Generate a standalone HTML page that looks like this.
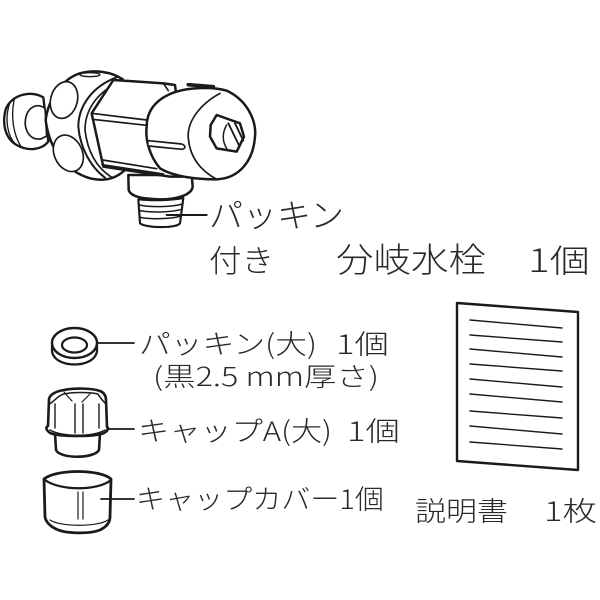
<!DOCTYPE html>
<html><head><meta charset="utf-8"><style>
html,body{margin:0;padding:0;background:#fff}
svg{display:block}
text{font-family:"Noto Sans CJK JP",sans-serif;fill:#2a2a2a;font-weight:300}
</style></head><body>
<svg width="600" height="600" viewBox="0 0 600 600" xmlns="http://www.w3.org/2000/svg">
<rect width="600" height="600" fill="#fff"/>
<g transform="translate(0 70) scale(.33333)" fill="none" stroke="#1a1a1a" stroke-width="7" stroke-linejoin="round" stroke-linecap="round">
<!-- left fitting -->
<path fill="#fff" d="M130 82C95 62 40 70 18 115C5 160 15 205 50 225C85 245 125 240 145 215Z"/>
<path d="M30 97C14 140 20 195 46 222M44 84C32 130 38 190 62 228" stroke-width="4"/>
<path fill="#fff" d="M135 115C105 92 72 122 76 165C80 195 100 212 125 206L140 198Z" stroke-width="5"/>
<!-- ball -->
<path fill="#fff" stroke-width="7.500" d="M137 150C145 85 190 25 240 10C285 -2 335 5 368 28L375 300C345 328 310 335 270 325C200 305 148 240 137 150Z"/>
<ellipse cx="192" cy="90" rx="40" ry="56" transform="rotate(15 192 90)" fill="#fff" stroke-width="5"/>
<ellipse cx="205" cy="250" rx="42" ry="57" transform="rotate(-25 205 250)" fill="#fff" stroke-width="5"/>
<ellipse cx="270" cy="14" rx="30" ry="6" fill="#fff" stroke-width="4"/>
<!-- outlet -->
<path fill="#fff" stroke-width="7.500" d="M385 315L386 360C392 380 425 386 480 388C530 388 575 375 578 350L575 315Z"/>
<path fill="#fff" stroke-width="6.500" d="M415 388L420 460C440 475 530 475 540 460L550 384C510 392 450 392 415 388Z"/>
<path d="M418 405C450 412 510 412 548 402M420 422C450 428 510 428 546 418M421 442C450 448 510 448 543 438" stroke-width="4.500"/>
<path d="M500 435H620" stroke-width="6"/>
<!-- collar bands -->
<path d="M350 22C275 50 235 110 235 170C240 230 270 290 315 323" stroke-width="6"/>
<path d="M350 40C290 70 255 120 255 180C262 240 285 290 335 322" stroke-width="5"/>
<!-- body -->
<path fill="#fff" stroke-width="7.500" d="M340 30L490 40L525 45L560 320L510 320L310 290L275 130Z"/>
<path d="M275 130L440 150M277 148L440 166M308 270L470 296M306 284L490 312" stroke-width="5"/>
<path d="M490 40L505 62" stroke-width="5"/>
<path d="M565 44L640 50" stroke-width="11"/>
<!-- cap -->
<path fill="#fff" stroke-width="7.500" d="M440 170C440 120 470 90 510 72C560 50 640 50 680 62C740 90 770 150 765 200C760 270 720 325 650 328C590 328 520 320 480 295C450 260 435 210 440 170Z"/>
<path d="M660 70C595 105 560 160 565 205C570 262 600 300 650 328" stroke-width="5"/>
<path fill="#fff" d="M446 212L545 222C558 227 558 236 545 238L446 228" stroke-width="5"/>
<!-- knob -->
<path fill="#fff" stroke-width="7.500" d="M650 135L720 160L732 200L710 245L650 235L630 200L632 165Z"/>
<path d="M680 165C668 185 665 212 680 235" stroke-width="4.500"/>
<path d="M685 160L718 228M705 160L730 212" stroke-width="5.500"/>
</g>
<g fill="none" stroke="#1a1a1a" stroke-width="2.4" stroke-linejoin="round" stroke-linecap="round">
<!-- washer -->
<path d="M52 345V351C54 369 95 369 97 351V345" stroke-width="2.2"/>
<ellipse cx="74.500" cy="343" rx="22.500" ry="15" fill="#fff"/>
<ellipse cx="74.500" cy="345" rx="12.500" ry="7.500" fill="#fff" stroke-width="2.2"/>
<path d="M97 343H134" stroke-width="1.8"/>
<!-- cap A -->
<path fill="#fff" stroke-width="2.600" d="M55 433L56 450C60 459 94 459 99 450L100 433Z"/>
<path fill="#fff" stroke-width="2.600" d="M49 399C50 394 57 391 64 390C74 388 92 388 100 391C105 393 106 397 106 400L107 427C109 428 108 431 104 433C96 437 60 437 50 433C45 429 46 427 48 426Z"/>
<path d="M49 404C54 402 58 395 64 394C72 392 90 392 98 394C100 398 104 402 106 404" stroke-width="1.5"/>
<path d="M55 404V428M75 404V433M83 404V433M99 404V428M50 430C62 437 94 437 105 430" stroke-width="1.400"/>
<path d="M64 392L72 401M90 394L82 402" stroke-width="1.200"/>
<path d="M107 429H134" stroke-width="1.8"/>
<!-- cap cover -->
<path fill="#fff" stroke-width="2.800" d="M44 479L45 517C46 522 50 526 56 529C66 534 90 534 100 530C106 527 110 523 110 517L111 479C100 469 56 469 44 479Z"/>
<path d="M45 480C60 491 98 491 111 480" stroke-width="2.2"/>
<path d="M78 492V519M83 492V519" stroke-width="1.2"/>
<path d="M50 520C60 527 98 527 108 520" stroke-width="1.2"/>
<path d="M101 499H134" stroke-width="1.8"/>
<!-- manual -->
<path fill="#fff" stroke-width="2.4" d="M457 303L578 312V470L457 461Z"/>
<g stroke-width="1.4"><path d="M470 320L562 328M470 335L562 342M470 349L562 357M470 364L562 371M470 379L562 387M470 394L562 402M470 411L562 418M470 426L562 434M470 442L562 449"/></g>
</g>
<text x="209" y="227" font-size="33" textLength="135" lengthAdjust="spacingAndGlyphs">パッキン</text>
<text x="209" y="272" font-size="31" textLength="65" lengthAdjust="spacingAndGlyphs">付き</text>
<text x="336" y="272" font-size="34" textLength="150" lengthAdjust="spacingAndGlyphs">分岐水栓</text>
<text x="528" y="272" font-size="32" textLength="62" lengthAdjust="spacingAndGlyphs">1個</text>
<text x="139" y="354" font-size="27" textLength="178" lengthAdjust="spacingAndGlyphs">パッキン(大)</text>
<text x="336" y="354" font-size="27" textLength="53" lengthAdjust="spacingAndGlyphs">1個</text>
<text x="153" y="386" font-size="26" textLength="226" lengthAdjust="spacingAndGlyphs">(黒2.5 mm厚さ)</text>
<text x="138" y="441" font-size="27" textLength="194" lengthAdjust="spacingAndGlyphs">キャップA(大)</text>
<text x="347" y="441" font-size="27" textLength="53" lengthAdjust="spacingAndGlyphs">1個</text>
<text x="136" y="509" font-size="27" textLength="248" lengthAdjust="spacingAndGlyphs">キャップカバー1個</text>
<text x="415" y="521" font-size="27" textLength="93" lengthAdjust="spacingAndGlyphs">説明書</text>
<text x="544" y="521" font-size="27" textLength="53" lengthAdjust="spacingAndGlyphs">1枚</text>
</svg>
</body></html>
